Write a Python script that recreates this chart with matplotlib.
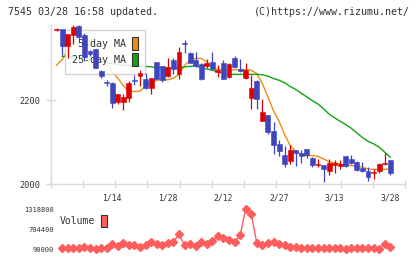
import matplotlib
matplotlib.use("Agg")
import matplotlib.pyplot as plt
import numpy as np
from matplotlib.patches import Patch

# candle data (index 0 .. 60)
opens = [2368, 2370, 2331, 2355, 2378, 2356, 2318, 2323, 2271, 2244,
         2242, 2197, 2195, 2206, 2249, 2259, 2251, 2229, 2291, 2282,
         2259, 2297, 2262, 2336, 2314, 2297, 2286, 2282, 2292, 2267,
         2289, 2256, 2301, 2276, 2253, 2206, 2246, 2151, 2165, 2127,
         2096, 2069, 2056, 2081, 2075, 2084, 2063, 2045, 2045, 2030,
         2045, 2044, 2066, 2060, 2053, 2039, 2031, 2026, 2032, 2048, 2057]
closes = [2371, 2331, 2358, 2376, 2352, 2304, 2310, 2277, 2259, 2242,
          2194, 2215, 2209, 2242, 2245, 2265, 2229, 2253, 2251, 2249,
          2280, 2275, 2316, 2334, 2290, 2283, 2250, 2288, 2276, 2272,
          2252, 2286, 2280, 2270, 2272, 2229, 2202, 2173, 2125, 2093,
          2079, 2048, 2081, 2073, 2066, 2069, 2045, 2048, 2036, 2051,
          2049, 2047, 2043, 2049, 2033, 2030, 2017, 2029, 2048, 2051, 2027]
highs = [2372, 2370, 2358, 2380, 2380, 2360, 2320, 2323, 2273, 2249,
         2244, 2215, 2215, 2247, 2260, 2273, 2265, 2253, 2292, 2282,
         2301, 2300, 2328, 2345, 2316, 2316, 2290, 2298, 2316, 2284,
         2296, 2290, 2306, 2298, 2288, 2260, 2248, 2202, 2165, 2147,
         2105, 2091, 2093, 2081, 2081, 2084, 2065, 2060, 2045, 2059,
         2057, 2057, 2066, 2069, 2055, 2053, 2041, 2036, 2050, 2075, 2057]
lows = [2366, 2309, 2302, 2334, 2345, 2295, 2306, 2277, 2253, 2235,
        2182, 2192, 2177, 2197, 2236, 2234, 2227, 2214, 2251, 2244,
        2255, 2262, 2251, 2313, 2288, 2280, 2248, 2277, 2274, 2256,
        2250, 2254, 2278, 2268, 2250, 2179, 2179, 2150, 2120, 2072,
        2067, 2041, 2048, 2044, 2051, 2061, 2041, 2041, 2005, 2022,
        2027, 2035, 2041, 2048, 2031, 2028, 2008, 2012, 2026, 2046, 2022]

ma5 = [2284, 2298, 2320, 2340, 2352, 2350, 2342, 2328, 2305, 2285,
       2268, 2253, 2235, 2222, 2221, 2222, 2235, 2243, 2248, 2249,
       2249, 2253, 2262, 2283, 2296, 2300, 2300, 2292, 2279, 2274,
       2272, 2272, 2273, 2273, 2273, 2272, 2264, 2240, 2208, 2175,
       2150, 2118, 2092, 2078, 2071, 2068, 2068, 2066, 2060, 2053,
       2050, 2048, 2045, 2044, 2043, 2040, 2036, 2035, 2035, 2035, 2036]
ma25 = [np.nan, 2305, 2305, 2304, 2303, 2301, 2299, 2296, 2293, 2290,
        2288, 2286, 2284, 2283, 2282, 2282, 2281, 2280, 2278, 2277,
        2276, 2277, 2277, 2280, 2281, 2283, 2277, 2275, 2272, 2268,
        2264, 2262, 2262, 2262, 2262, 2262, 2262, 2261, 2258, 2252,
        2248, 2242, 2233, 2226, 2217, 2208, 2199, 2191, 2180, 2167,
        2158, 2150, 2142, 2133, 2122, 2111, 2102, 2096, 2088, 2076, 2064]

# volume (index 1 .. 60)
volumes = [111000, 130000, 130000, 130000, 160000, 111000, 90000, 111000, 111000, 244000,
           182000, 265000, 204000, 209000, 160000, 209000, 305000, 244000, 209000, 265000,
           295000, 551000, 209000, 244000, 182000, 315000, 244000, 325000, 490000, 418000,
           357000, 305000, 510000, 1318800, 1165000, 265000, 204000, 265000, 295000, 244000,
           209000, 160000, 140000, 111000, 130000, 130000, 111000, 130000, 111000, 130000,
           111000, 92000, 111000, 130000, 130000, 130000, 111000, 92000, 244000, 140000]

date_idx = [10, 20, 30, 40, 50, 60]
date_labels = ["1/14", "1/28", "2/12", "2/27", "3/13", "3/28"]
price_ticks = [2000, 2200]
vol_ticks = [90000, 704400, 1318800]

RED = "#dc0000"
BLUE = "#3f45bf"
ORANGE = "#f08a10"
GREEN = "#12a412"
VOLC = "#ff5c5c"
GRAY = "#d9d9d9"
TXT = "#333333"
mono = "DejaVu Sans Mono"

W, H = 420, 259
fig = plt.figure(figsize=(W / 100, H / 100), dpi=100)

def px_axes(x0, y0, x1, y1):
    return fig.add_axes([x0 / W, 1 - y1 / H, (x1 - x0) / W, (y1 - y0) / H])

xl = (-1.1, 62.7)
ax = px_axes(50.5, 25, 405.3, 184)
ax.set_xlim(xl)
ax.set_ylim(2000, 2380)

n = len(opens)
xs = np.arange(n)
o = np.array(opens)
c = np.array(closes)
cols = [RED if cc >= oo else BLUE for oo, cc in zip(o, c)]
ax.vlines(xs, lows, highs, colors=cols, lw=0.9, zorder=3)
body = np.where(np.abs(c - o) < 2, 2, c - o)
ax.bar(xs, body, bottom=o, width=0.88, color=cols, edgecolor=cols, lw=0.4, zorder=3)

ax.plot(xs, ma5, color=ORANGE, lw=1.0, zorder=2)
ax.plot(xs, ma25, color=GREEN, lw=1.0, zorder=2)

for s in ["top", "right"]:
    ax.spines[s].set_visible(False)
for s in ["left", "bottom"]:
    ax.spines[s].set_color(GRAY)
    ax.spines[s].set_linewidth(1.0)

ax.set_yticks(price_ticks)
ax.set_yticklabels([str(p) for p in price_ticks], family=mono, fontsize=6.2, color=TXT)
ax.tick_params(axis="y", direction="inout", length=6.5, width=1, color=GRAY, pad=4)
ax.set_xticks(date_idx)
ax.set_xticklabels([])
ax.set_xticks(np.linspace(xl[0], xl[1], 12), minor=True)
ax.tick_params(axis="x", which="major", length=0)
ax.tick_params(axis="x", which="minor", direction="inout", length=6, width=1, color=GRAY)
for xi, lab in zip(date_idx, date_labels):
    ax.text(xi, -0.09, lab, transform=ax.get_xaxis_transform(), ha="center", va="center",
            family=mono, fontsize=5.8, color=TXT)

handles = [Patch(facecolor=ORANGE, edgecolor="#333333", lw=0.8, label="5-day MA"),
           Patch(facecolor=GREEN, edgecolor="#333333", lw=0.8, label="25-day MA")]
leg = ax.legend(handles=handles, loc="upper left", bbox_to_anchor=(65 / W, 1 - 30 / H),
                bbox_transform=fig.transFigure, borderaxespad=0, markerfirst=False,
                prop={"family": mono, "size": 7.2}, handlelength=0.6, handleheight=1.6,
                handletextpad=0.5, labelspacing=0.3, borderpad=0.75,
                fancybox=False, edgecolor="#cccccc", framealpha=0.85, labelcolor=TXT)
leg.get_frame().set_linewidth(1.0)
leg.set_zorder(2.5)

# volume panel
vax = px_axes(50.5, 209, 405.3, 249)
vax.set_xlim(xl)
vax.set_ylim(90000, 1318800)
vax.plot(np.arange(1, len(volumes) + 1), volumes, color=VOLC, lw=1.0, marker="D",
         ms=3.8, mec=VOLC, mfc=VOLC, clip_on=False)
for s in vax.spines.values():
    s.set_visible(False)
vax.set_xticks([])
vax.set_yticks(vol_ticks)
vax.set_yticklabels([str(v) for v in vol_ticks], family=mono, fontsize=5.0, color=TXT)
vax.tick_params(axis="y", length=0, pad=-2.5)
vleg = vax.legend(handles=[Patch(facecolor=VOLC, edgecolor="#333333", lw=0.8, label="Volume")],
                  loc="center left", bbox_to_anchor=(56 / W, 1 - 221 / H),
                  bbox_transform=fig.transFigure, borderaxespad=0, markerfirst=False,
                  prop={"family": mono, "size": 7.0}, handlelength=0.6, handleheight=1.5,
                  handletextpad=0.6, frameon=False, labelcolor=TXT)

fig.text(8 / W, 1 - 12 / H, "7545 03/28 16:58 updated.", family=mono, fontsize=7.2,
         color=TXT, va="center", ha="left")
fig.text(410 / W, 1 - 12 / H, "(C)https://www.rizumu.net/", family=mono, fontsize=7.2,
         color=TXT, va="center", ha="right")

fig.savefig("out.png", dpi=100)
